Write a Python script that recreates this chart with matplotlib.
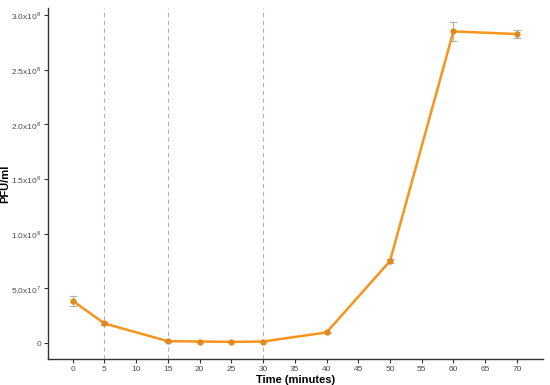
import matplotlib
matplotlib.use('Agg')
import matplotlib.pyplot as plt

#dados
tempo = [0, 5, 15, 20, 25, 30, 40, 50, 60, 70]
pfu = [3.86e7, 1.8e7, 1.8e6, 1.5e6, 1.2e6, 1.5e6, 9.8e6, 7.5e7, 2.85e8, 2.826e8]
erro = [4.5e6, 1.0e6, 4e5, 3e5, 3e5, 3e5, 8e5, 1.5e6, 8.5e6, 3.3e6]
linhas_tracejadas = [5, 15, 30]
yticks = [0, 5e7, 1e8, 1.5e8, 2e8, 2.5e8, 3e8]
ytick_labels = ['0', r'5.0x10$^7$', r'1.0x10$^8$', r'1.5x10$^8$',
                r'2.0x10$^8$', r'2.5x10$^8$', r'3.0x10$^8$']
xticks = list(range(0, 75, 5))

plt.rcParams['font.family'] = ['Liberation Sans', 'DejaVu Sans']
plt.rcParams['mathtext.fontset'] = 'custom'
plt.rcParams['mathtext.rm'] = 'Liberation Sans'

fig = plt.figure(figsize=(5.5, 3.85), dpi=100)
ax = fig.add_axes([0.0873, 0.0675, 0.8997, 0.912])

for x in linhas_tracejadas:
    ax.axvline(x, color='#b3b3b3', linestyle=(0, (4, 3)), linewidth=0.8, zorder=1)

laranja = '#F7941D'
ax.errorbar(tempo, pfu, yerr=erro, fmt='none', ecolor='#b0b0b0', elinewidth=0.8,
            capsize=3, capthick=0.8, zorder=2)
ax.plot(tempo, pfu, color=laranja, linewidth=1.8, zorder=3)
ax.plot(tempo, pfu, 'o', color='#E08A1E', markersize=3.5, zorder=4)

ax.set_xlim(-3.9, 74.1)
ax.set_ylim(-1.45e7, 3.065e8)
ax.set_xticks(xticks)
ax.set_xticklabels([str(t) for t in xticks])
ax.set_yticks(yticks)
ax.set_yticklabels(ytick_labels)

ax.tick_params(axis='both', labelsize=6, labelcolor='#4d4d4d', color='#333333',
               length=3, width=0.8, pad=2)
for lado in ['top', 'right']:
    ax.spines[lado].set_visible(False)
for lado in ['left', 'bottom']:
    ax.spines[lado].set_color('#333333')
    ax.spines[lado].set_linewidth(1.0)

ax.set_xlabel('Time (minutes)', fontsize=8, fontweight='bold')
ax.set_ylabel('PFU/ml', fontsize=8, fontweight='bold')
ax.xaxis.set_label_coords(0.5, -0.046)
ax.yaxis.set_label_coords(-0.077, 0.5)

fig.savefig('out.png', dpi=100)
